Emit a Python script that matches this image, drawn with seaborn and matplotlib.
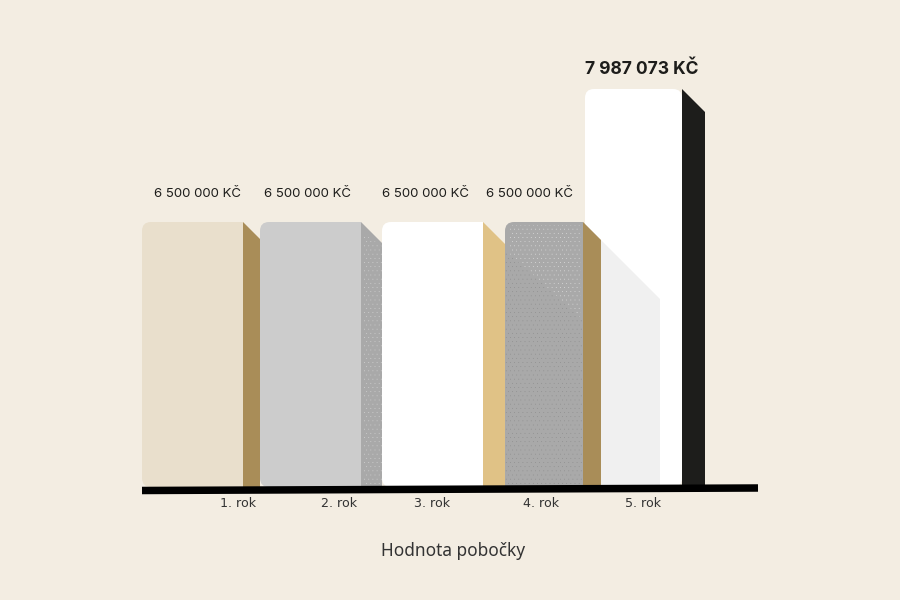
import numpy as np
import pandas as pd
import matplotlib
matplotlib.use("Agg")
import matplotlib.pyplot as plt
from matplotlib.patches import FancyBboxPatch
import seaborn as sns

# ---- data ----
categories = ["1. rok", "2. rok", "3. rok", "4. rok", "5. rok"]
value_labels = ["6 500 000 KČ", "6 500 000 KČ", "6 500 000 KČ", "6 500 000 KČ", "7 987 073 KČ"]
# The original's bars are decorative and not proportional to the labels: drawn heights as read.
drawn_heights = [265, 265, 265, 265, 398]

# ---- layout / style (figure pixels; y = height above the baseline) ----
BG = "#f3ede2"
bar_left = [142, 260, 382, 505, 585]
bar_right = [243, 361, 483, 583, 682]
side_right = [260, 382, 505, 601, 705]
front_colors = ["#e9dfcc", "#cccccc", "#ffffff", "#a9a9a9", "#ffffff"]
side_colors = ["#a98d58", "#a9a9a9", "#e0c286", "#a98d58", "#1d1d1b"]
clip_extra = [12, 12, 12, 12, 0]
tick_x = [238, 339, 432, 541, 643]
label_x = [198, 308, 425, 530, 642]
label_y = [293, 293, 293, 293, 418]
BASE_PX = 487

sns.set_theme(style="white", rc={"hatch.linewidth": 0.0})
fig = plt.figure(figsize=(9, 6), dpi=100, facecolor=BG)
ax = fig.add_axes([0, 0, 1, 1], facecolor=BG)

df = pd.DataFrame({
    "centre": [(l + r) / 2 for l, r in zip(bar_left, bar_right)],
    "height": drawn_heights,
})
sns.barplot(data=df, x="centre", y="height", native_scale=True, color="#cccccc",
            saturation=1, ax=ax, zorder=5)

for i, bar in enumerate(ax.patches):
    bar.set_x(bar_left[i])
    bar.set_width(bar_right[i] - bar_left[i])
    bar.set_facecolor(front_colors[i])
    bar.set_edgecolor("none")
    bar.set_zorder(5)
    clip = FancyBboxPatch((bar_left[i], 0), bar_right[i] - bar_left[i] + clip_extra[i],
                          drawn_heights[i], boxstyle="round,pad=0,rounding_size=9",
                          transform=ax.transData)
    bar.set_clip_path(clip)

# side faces
for i in range(5):
    l, r, h = bar_right[i], side_right[i], drawn_heights[i]
    ax.fill([l, r, r, l], [h, h - (r - l), 0, 0], color=side_colors[i], lw=0, zorder=4)

# pale side face of the fourth bar, lying over the tall white bar
h4 = drawn_heights[3]
ax.fill([583, 660, 660, 583], [h4, h4 - 77, 0, 0], color="#f0f0f0", lw=0, zorder=5.5)
ax.fill([583, 601, 601, 583], [h4, h4 - 18, 0, 0], color=side_colors[3], lw=0, zorder=5.6)

# dotted surfaces
ax.fill([364, 382, 382, 364], [h4 - 12, h4 - 24, 0, 0], facecolor=side_colors[1],
        edgecolor="#e2e2e2", hatch="....", lw=0, zorder=4.5)
ax.fill([509, 581, 581, 509], [h4 - 3, h4 - 3, 0, 0], facecolor=front_colors[3],
        edgecolor="#f0f0f0", hatch="....", lw=0, zorder=6)
ax.fill([505, 583, 583, 505], [h4 - 28, h4 - 98, 0, 0], facecolor=front_colors[3],
        edgecolor="#858585", hatch="....", lw=0, zorder=6.5)

# slightly tilted baseline
ax.plot([142, 758], [BASE_PX - 490.5, BASE_PX - 488], color="black", lw=5.4,
        solid_capstyle="butt", zorder=10)

# value labels
for i, txt in enumerate(value_labels):
    last = i == len(value_labels) - 1
    ax.text(label_x[i], label_y[i], txt, ha="center", va="center",
            family="Inter", fontsize=12.6 if last else 9.5,
            fontweight="bold" if last else "normal", color="#1d1d1b", zorder=11)

ax.set_xlim(0, 900)
ax.set_ylim(BASE_PX - 600, BASE_PX)
ax.set_yticks([])
ax.set_xticks(tick_x, categories)
ax.tick_params(axis="x", length=0, pad=0, bottom=True, labelsize=9.1, labelcolor="#333333")
for t in ax.get_xticklabels():
    t.set_family("Noto Sans")
ax.spines["bottom"].set_position(("data", BASE_PX - 497))
for s in ax.spines.values():
    s.set_visible(False)
ax.set_ylabel("")
ax.set_xlabel("Hodnota pobočky", family="Noto Sans", fontsize=12.4, color="#333333", va="center")
ax.xaxis.set_label_coords(453 / 900, (600 - 551) / 600)

fig.savefig("out.png", dpi=100, facecolor=BG)
